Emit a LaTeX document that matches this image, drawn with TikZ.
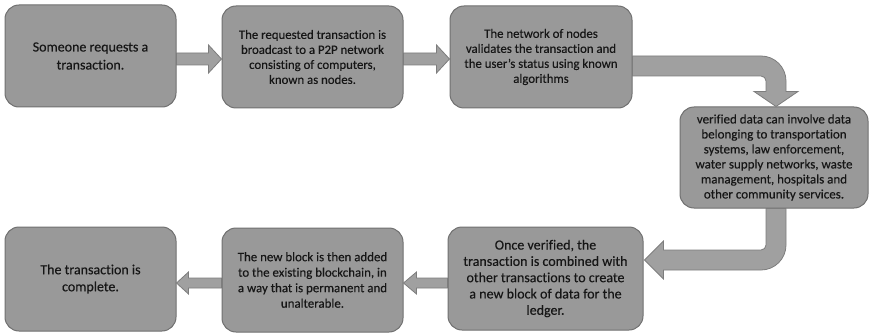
\documentclass[tikz,border=0pt]{standalone}
\usepackage{fontspec}
\setmainfont{Carlito}[Ligatures={NoCommon,NoRare,NoDiscretionary}, FakeBold=0.3]
\usetikzlibrary{calc}
\definecolor{boxfill}{RGB}{153,153,153}
\definecolor{boxline}{RGB}{112,112,112}
\definecolor{arrfill}{RGB}{160,160,160}
\definecolor{arrline}{RGB}{125,125,125}
\definecolor{txt}{RGB}{22,22,22}
\begin{document}
\begin{tikzpicture}[x=1pt,y=-1pt,
  stepbox/.style={draw=boxline, fill=boxfill, line width=1pt, rounded corners=14pt,
    align=center, inner sep=0pt, text=txt, font=\fontsize{12.8}{15}\selectfont},
  fatarrow/.style={draw=arrline, fill=arrfill, line width=0.8pt, line join=miter}]
\useasboundingbox (0,0) rectangle (869,334);
\fill[white] (0,0) rectangle (869,334);

\node[stepbox, minimum width=171pt, minimum height=102pt, font=\fontsize{14}{18}\selectfont] (b1) at (90.5,56) {Someone requests a\\transaction.};
\node[stepbox, minimum width=181pt, minimum height=102pt] (b2) at (312.5,57) {The requested transaction is\\broadcast to a P2P network\\consisting of computers,\\known as nodes.};
\node[stepbox, minimum width=182pt, minimum height=102pt] (b3) at (541,57) {The network of nodes\\validates the transaction and\\the user’s status using known\\algorithms};
\node[stepbox, minimum width=188pt, minimum height=101pt, font=\fontsize{13}{15}\selectfont] (b4) at (774,157.5) {verified data can involve data\\belonging to transportation\\systems, law enforcement,\\water supply networks, waste\\management, hospitals and\\other community services.};
\node[stepbox, minimum width=195pt, minimum height=103pt, font=\fontsize{14}{16.3}\selectfont] (b5) at (545.5,278.5) {Once verified, the\\transaction is combined with\\other transactions to create\\a new block of data for the\\ledger.};
\node[stepbox, minimum width=181pt, minimum height=104pt, font=\fontsize{12.9}{15.5}\selectfont] (b6) at (312.5,280) {The new block is then added\\to the existing blockchain, in\\a way that is permanent and\\unalterable.};
\node[stepbox, minimum width=171pt, minimum height=104pt, font=\fontsize{14}{17}\selectfont] (b7) at (90.5,279) {The transaction is\\complete.};

% b1 -> b2
\draw[fatarrow] ($(b1.east)+(0,-3)$) -- ($(b2.west)+(-13,-4)$) -- ($(b2.west)+(-13,-12)$)
  -- ($(b2.west)+(0,2)$) -- ($(b2.west)+(-13,16)$) -- ($(b2.west)+(-13,8)$)
  -- ($(b1.east)+(0,9)$) -- cycle;
% b2 -> b3
\draw[fatarrow] ($(b2.east)+(0,-4)$) -- ($(b3.west)+(-13,-4)$) -- ($(b3.west)+(-13,-12)$)
  -- ($(b3.west)+(0,2)$) -- ($(b3.west)+(-13,16)$) -- ($(b3.west)+(-13,8)$)
  -- ($(b2.east)+(0,8)$) -- cycle;
% b3 -> b4 (bent)
\coordinate (c3) at ($(b3.east -| b4.north)+(0,-1)$);
\draw[fatarrow] ($(b3.east)+(0,-1)$) -- ($(c3)+(-13,0)$)
  .. controls ($(c3)+(0.8,0)$) and ($(c3)+(12,11.2)$) .. ($(c3)+(12,25)$)
  -- ($(b4.north)+(12,-15)$) -- ($(b4.north)+(24,-15)$) -- ($(b4.north)+(2,0)$)
  -- ($(b4.north)+(-20,-15)$) -- ($(b4.north)+(-8,-15)$) -- ($(c3)+(-8,25)$)
  .. controls ($(c3)+(-8,22.24)$) and ($(c3)+(-10.24,20)$) .. ($(c3)+(-13,20)$)
  -- ($(b3.east)+(0,19)$) -- cycle;
% b4 -> b5 (bent)
\coordinate (c4) at (b4.south |- b5.east);
\draw[fatarrow] ($(b4.south)+(-8,0)$) -- ($(b4.south)+(12,0)$) -- ($(c4)+(12,-33.5)$)
  .. controls ($(c4)+(12,-19.7)$) and ($(c4)+(0.8,-8.5)$) .. ($(c4)+(-13,-8.5)$)
  -- ($(b5.east)+(20,-8.5)$) -- ($(b5.east)+(20,0.5)$) -- ($(b5.east)+(1,-18.5)$)
  -- ($(b5.east)+(20,-37.5)$) -- ($(b5.east)+(20,-28.5)$) -- ($(c4)+(-13,-28.5)$)
  .. controls ($(c4)+(-10.24,-28.5)$) and ($(c4)+(-8,-30.74)$) .. ($(c4)+(-8,-33.5)$)
  -- cycle;
% b5 -> b6
\draw[fatarrow] ($(b5.west)+(0,-0.5)$) -- ($(b6.east)+(13,-2)$) -- ($(b6.east)+(13,-8)$)
  -- ($(b6.east)+(0,3)$) -- ($(b6.east)+(13,14)$) -- ($(b6.east)+(13,8)$)
  -- ($(b5.west)+(0,9.5)$) -- cycle;
% b6 -> b7
\draw[fatarrow] ($(b6.west)+(0,-2)$) -- ($(b7.east)+(12,-1)$) -- ($(b7.east)+(12,-7)$)
  -- ($(b7.east)+(0,4)$) -- ($(b7.east)+(12,15)$) -- ($(b7.east)+(12,9)$)
  -- ($(b6.west)+(0,8)$) -- cycle;
\end{tikzpicture}
\end{document}
